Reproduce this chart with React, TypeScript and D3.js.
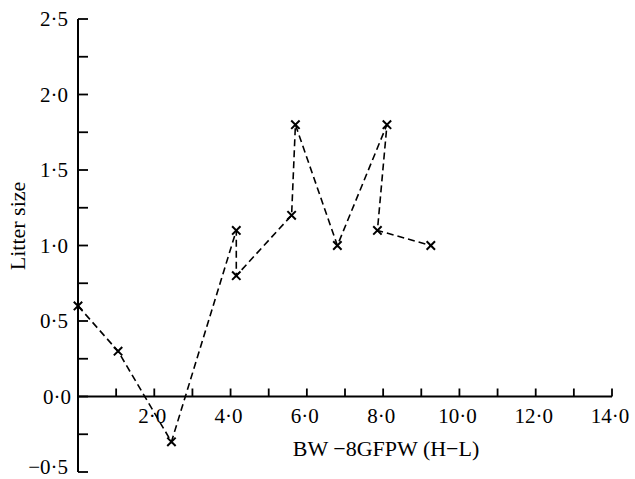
import * as d3 from "d3";
import { useRef, useEffect } from "react";

// values
const xValues = [0, 1.05, 2.45, 4.15, 4.15, 5.6, 5.7, 6.8, 8.1, 7.85, 9.25];
const yValues = [0.6, 0.3, -0.3, 1.1, 0.8, 1.2, 1.8, 1.0, 1.8, 1.1, 1.0];
const xTicks = [1, 2, 3, 4, 5, 6, 7, 8, 9, 10, 11, 12, 13, 14];
const xTickLabels = [2, 4, 6, 8, 10, 12, 14];
const yTicks = [-0.5, -0.25, 0, 0.25, 0.5, 0.75, 1, 1.25, 1.5, 1.75, 2, 2.25, 2.5];
const yTickLabels = [-0.5, 0, 0.5, 1, 1.5, 2, 2.5];

const width = 635;
const height = 479;
const font = "'Liberation Serif', 'DejaVu Serif', serif";

const fmt = (v: number) => {
    const s = Math.abs(v).toFixed(1).replace(".", "\u00b7");
    return v < 0 ? "\u2212" + s : s;
};

const App = () => {
    const chartRef = useRef<SVGSVGElement>(null);

    useEffect(() => {
        const svg = d3.select(chartRef.current);
        svg.selectAll("*").remove();

        const x = d3.scaleLinear().domain([0, 14]).range([78, 612]);
        const y = d3.scaleLinear().domain([-0.5, 2.5]).range([472, 19]);

        // y axis
        svg.append("line")
            .attr("x1", x(0)).attr("x2", x(0))
            .attr("y1", y(-0.5)).attr("y2", y(2.5))
            .attr("stroke", "#000").attr("stroke-width", 2);
        svg.selectAll("line.ytick")
            .data(yTicks)
            .enter()
            .append("line")
            .attr("class", "ytick")
            .attr("x1", x(0)).attr("x2", x(0) + 10)
            .attr("y1", d => y(d)).attr("y2", d => y(d))
            .attr("stroke", "#000").attr("stroke-width", 1.8);
        svg.selectAll("text.ylab")
            .data(yTickLabels)
            .enter()
            .append("text")
            .attr("class", "ylab")
            .attr("x", d => d === 0 ? 71 : 68)
            // bottom label sits at the page edge, keep it just inside
            .attr("y", d => d === -0.5 ? 474 : y(d) + 7)
            .attr("text-anchor", "end")
            .style("font-family", font)
            .style("font-size", "21px")
            .attr("fill", "#000")
            .text(d => fmt(d));

        // x axis at zero
        svg.append("line")
            .attr("x1", x(0)).attr("x2", x(14))
            .attr("y1", y(0)).attr("y2", y(0))
            .attr("stroke", "#000").attr("stroke-width", 2);
        svg.selectAll("line.xtick")
            .data(xTicks)
            .enter()
            .append("line")
            .attr("class", "xtick")
            .attr("x1", d => x(d)).attr("x2", d => x(d))
            .attr("y1", y(0)).attr("y2", y(0) - 8)
            .attr("stroke", "#000").attr("stroke-width", 1.8);
        svg.selectAll("text.xlab")
            .data(xTickLabels)
            .enter()
            .append("text")
            .attr("class", "xlab")
            .attr("x", d => x(d) - 2)
            .attr("y", 423)
            .attr("text-anchor", "middle")
            .style("font-family", font)
            .style("font-size", "21px")
            .attr("fill", "#000")
            .text(d => fmt(d));

        // axis titles
        svg.append("text")
            .attr("x", 386).attr("y", 456)
            .attr("text-anchor", "middle")
            .style("font-family", font)
            .style("font-size", "22px")
            .attr("fill", "#000")
            .text("BW \u22128GFPW (H\u2212L)");
        svg.append("text")
            .attr("transform", "translate(25, 226) rotate(-90)")
            .attr("text-anchor", "middle")
            .style("font-family", font)
            .style("font-size", "22px")
            .attr("fill", "#000")
            .text("Litter size");

        // dashed line through points
        const pts: [number, number][] = xValues.map((v, i) => [v, yValues[i]]);
        const line = d3.line<[number, number]>()
            .x(d => x(d[0]))
            .y(d => y(d[1]));
        svg.append("path")
            .attr("d", line(pts))
            .attr("fill", "none")
            .attr("stroke", "#000")
            .attr("stroke-width", 1.6)
            .attr("stroke-dasharray", "7,4");

        // cross markers
        const s = 4.2;
        const g = svg.selectAll("g.pt")
            .data(pts)
            .enter()
            .append("g")
            .attr("class", "pt")
            .attr("transform", d => `translate(${x(d[0])}, ${y(d[1])})`);
        g.append("path")
            .attr("d", `M${-s},${-s}L${s},${s}M${-s},${s}L${s},${-s}`)
            .attr("stroke", "#000")
            .attr("stroke-width", 2);
    }, []);

    return (
        <svg ref={chartRef} width={width} height={height}
            style={{ position: "absolute", left: 0, top: 0, background: "#fff" }}></svg>
    );
};

export default App;
